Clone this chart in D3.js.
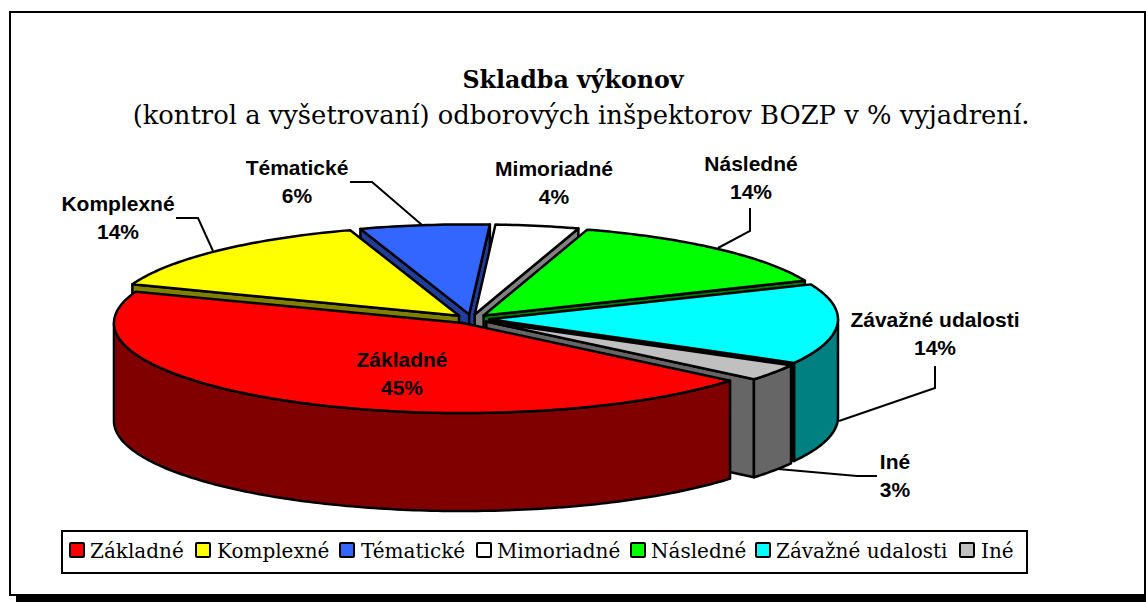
<!DOCTYPE html>
<html>
<head>
<meta charset="utf-8">
<script src="https://cdn.jsdelivr.net/npm/d3@7"></script>
<style>
  html, body { margin: 0; padding: 0; background: #fff; overflow: hidden; }
  svg { display: block; }
</style>
</head>
<body>
<svg id="chart" width="1146" height="602"></svg>
<script>
// Chart data, shares (labels show them rounded)
const categories = ['Základné', 'Komplexné', 'Tématické', 'Mimoriadné', 'Následné', 'Závažné udalosti', 'Iné'];
const shares = [44.6, 14.28, 6, 3.86, 13.86, 14.4, 3];
const topColors = ['#ff0000', '#ffff00', '#3366ff', '#ffffff', '#00ff00', '#00ffff', '#c0c0c0'];
const sideColors = ['#800000', '#808000', '#1f3d99', '#808080', '#008000', '#008080', '#666666'];
const cutColors = ['#800000', '#808000', '#1f3d99', '#808080', '#008000', '#000000', '#666666'];

// Layout
const cx = 471.5, cy = 319, rx = 348.5, ry = 90;
const depth = 98, explode = 18;
const bold = 'Liberation Sans, Arial, sans-serif';
const serif = 'DejaVu Serif, serif';

const labelPos = [
    [402, 367], [118, 211], [297, 175], [554, 176], [751, 171], [935, 327], [895, 469]
];
const leaderLines = [
    null,
    [[176, 218], [198, 218], [213, 251]],
    [[350, 182], [372, 182], [422, 225]],
    null,
    [[750, 208], [750, 231], [718, 248]],
    [[935, 366], [935, 388], [839, 421]],
    [[877, 476], [857, 476], [778, 469]]
];
const legendX = [70, 196, 340, 477, 631, 756, 960];
const legendTextX = [90, 217, 361, 497, 651, 776, 981];

const svg = d3.select('#chart');

// Frame with the black shadow under it
svg.append('rect').attr('x', 16).attr('y', 18).attr('width', 1130).attr('height', 584).attr('fill', '#000');
svg.append('rect').attr('x', 10).attr('y', 12).attr('width', 1135).attr('height', 583)
    .attr('fill', '#fff').attr('stroke', '#000').attr('stroke-width', 2);

// Title
svg.append('text').attr('x', 573).attr('y', 88).attr('text-anchor', 'middle')
    .attr('font-family', serif).attr('font-weight', 'bold').attr('font-size', 23.7)
    .text('Skladba výkonov');
svg.append('text').attr('x', 581).attr('y', 124).attr('text-anchor', 'middle')
    .attr('font-family', serif).attr('font-size', 25.8)
    .text('(kontrol a vyšetrovaní) odborových inšpektorov BOZP v % vyjadrení.');

// Pie: angle 0 of the ellipse is at 3 o'clock, d3.pie counts from 12 o'clock
const startDeg = 129.84;
const pie = d3.pie().sort(null).value(d => d)
    .startAngle(startDeg * Math.PI / 180).endAngle((startDeg + 360) * Math.PI / 180);
const arcs = pie(shares);
const xScale = d3.scaleLinear().domain([-1, 1]).range([cx - rx, cx + rx]);
const yScale = d3.scaleLinear().domain([-1, 1]).range([cy - ry, cy + ry]);
const line = d3.line();

const slices = arcs.map((a, i) => {
    const t0 = a.startAngle - Math.PI / 2;
    const t1 = a.endAngle - Math.PI / 2;
    const mid = (t0 + t1) / 2;
    const dx = Math.cos(mid) * explode;
    const dy = Math.sin(mid) * explode * ry / rx;
    const rim = t => [xScale(Math.cos(t)) + dx, yScale(Math.sin(t)) + dy];
    return { i, t0, t1, mid, rim, apex: [cx + dx, cy + dy] };
});

function sampled(s, from, to) {
    const n = Math.max(2, Math.ceil((to - from) * 60));
    return d3.range(n + 1).map(k => s.rim(from + (to - from) * k / n));
}
const down = p => [p[0], p[1] + depth];

// Back to front
const order = slices.slice().sort((a, b) => Math.sin(a.mid) - Math.sin(b.mid));
const pieG = svg.append('g').attr('stroke', '#000').attr('stroke-width', 2.5).attr('stroke-linejoin', 'round');

order.forEach(s => {
    // Radial cut faces, skip the ones hidden under the slice's own top
    [[s.t0, Math.cos(s.t0) < 0], [s.t1, Math.cos(s.t1) > 0]].forEach(([t, visible]) => {
        if (!visible) return;
        const p = s.rim(t);
        pieG.append('path').attr('fill', cutColors[s.i])
            .attr('d', line([s.apex, p, down(p), down(s.apex)]) + 'Z');
    });
    // Outer wall, only the front half of the ellipse is seen
    const twoPi = 2 * Math.PI;
    [-twoPi, 0, twoPi].forEach(shift => {
        const from = Math.max(s.t0 + shift, 0);
        const to = Math.min(s.t1 + shift, Math.PI);
        if (to > from) {
            const edge = sampled(s, from - shift, to - shift);
            pieG.append('path').attr('fill', sideColors[s.i])
                .attr('d', line(edge.concat(edge.slice().reverse().map(down))) + 'Z');
        }
    });
    // Top face
    pieG.append('path').attr('fill', topColors[s.i])
        .attr('d', line([s.apex].concat(sampled(s, s.t0, s.t1))) + 'Z');
});

// Leader lines
svg.append('g').selectAll('path')
    .data(leaderLines.filter(d => d))
    .join('path')
    .attr('d', d => line(d))
    .attr('fill', 'none').attr('stroke', '#000').attr('stroke-width', 2);

// Data labels
const labelG = svg.append('g').attr('font-family', bold).attr('font-weight', 'bold')
    .attr('font-size', 21).attr('text-anchor', 'middle').attr('fill', '#000');
categories.forEach((name, i) => {
    const [x, y] = labelPos[i];
    labelG.append('text').attr('x', x).attr('y', y).text(name);
    labelG.append('text').attr('x', x).attr('y', y + 27.5).text(Math.round(shares[i]) + '%');
});

// Legend
svg.append('rect').attr('x', 62).attr('y', 531).attr('width', 965).attr('height', 42)
    .attr('fill', '#fff').attr('stroke', '#000').attr('stroke-width', 2);
categories.forEach((name, i) => {
    svg.append('rect').attr('x', legendX[i]).attr('y', 543).attr('width', 14).attr('height', 14)
        .attr('rx', 1).attr('fill', topColors[i]).attr('stroke', '#000').attr('stroke-width', 2);
    svg.append('text').attr('x', legendTextX[i]).attr('y', 558)
        .attr('font-family', serif).attr('font-size', 20).text(name);
});
</script>
</body>
</html>
